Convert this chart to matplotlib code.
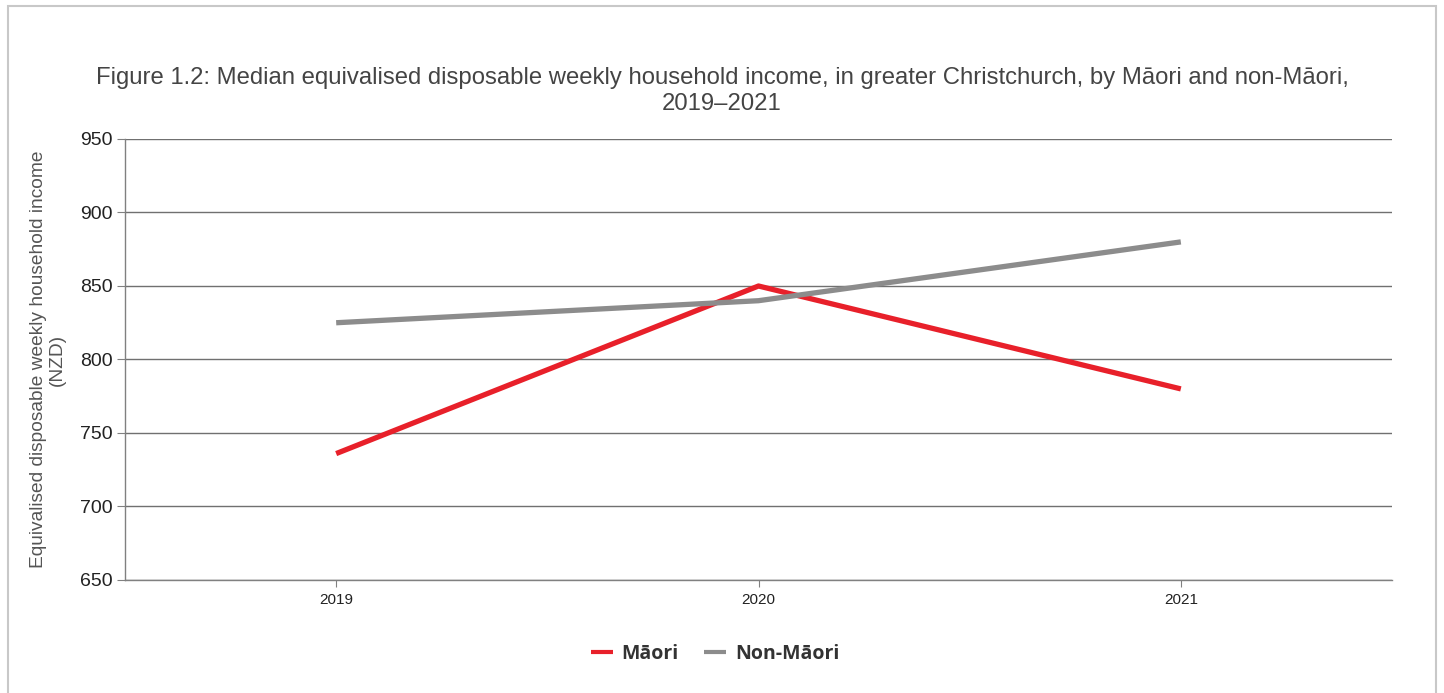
import matplotlib.pyplot as plt
from matplotlib.patches import Rectangle

years = ['2019', '2020', '2021']
maori = [736, 850, 780]
non_maori = [825, 840, 880]
yticks = [650, 700, 750, 800, 850, 900, 950]

title = ('Figure 1.2: Median equivalised disposable weekly household income, in greater Christchurch, by M\u0101ori and non-M\u0101ori,\n'
         '2019\u20132021')

plt.rcParams['font.family'] = ['Liberation Sans', 'DejaVu Sans']

fig = plt.figure(figsize=(14.44, 6.93), dpi=100)
# outer frame
fig.patches.append(Rectangle((8 / 1444, -0.01), 1428 / 1444, 1 - 6 / 693 + 0.01,
                             transform=fig.transFigure, fill=False,
                             edgecolor='#c8c8c8', linewidth=1.5))

ax = fig.add_axes([125 / 1444, 1 - 580 / 693, 1267 / 1444, 441 / 693])
x = list(range(len(years)))
ax.plot(x, maori, color='#e8202a', linewidth=3.8, label='M\u0101ori', solid_capstyle='butt')
ax.plot(x, non_maori, color='#8c8c8c', linewidth=3.8, label='Non-M\u0101ori', solid_capstyle='butt')

ax.set_xlim(-0.5, 2.5)
ax.set_ylim(650, 950)
ax.set_yticks(yticks)
ax.set_xticks(x)
ax.set_xticklabels(years)
ax.yaxis.grid(True, color='#707070', linewidth=1)
ax.set_axisbelow(True)
for s in ['top', 'right']:
    ax.spines[s].set_visible(False)
for s in ['left', 'bottom']:
    ax.spines[s].set_color('#808080')
    ax.spines[s].set_linewidth(1)

for lab in ax.get_yticklabels():
    lab.set_fontsize(14)
    lab.set_color('#222222')
for lab in ax.get_xticklabels():
    lab.set_fontsize(11)
    lab.set_color('#222222')
ax.tick_params(axis='y', length=6, color='#808080', pad=3)
ax.tick_params(axis='x', length=5, color='#808080', pad=4)

ax.set_ylabel('Equivalised disposable weekly household income\n(NZD)',
              fontsize=13.8, color='#555555', labelpad=10, linespacing=1.15)

fig.text(0.5, 1 - 91 / 693, title, ha='center', va='center', fontsize=17.2,
         color='#444444', linespacing=1.2)

leg = fig.legend(loc='center', bbox_to_anchor=(715 / 1444, 1 - 654 / 693), ncol=2,
                 frameon=False, handlelength=1.15, columnspacing=1.3, handletextpad=0.45,
                 prop={'family': ['Open Sans', 'DejaVu Sans'], 'weight': 'bold', 'size': 14})
for t in leg.get_texts():
    t.set_color('#333333')
for ln in leg.get_lines():
    ln.set_linewidth(3)

fig.savefig('out.png', dpi=100)
